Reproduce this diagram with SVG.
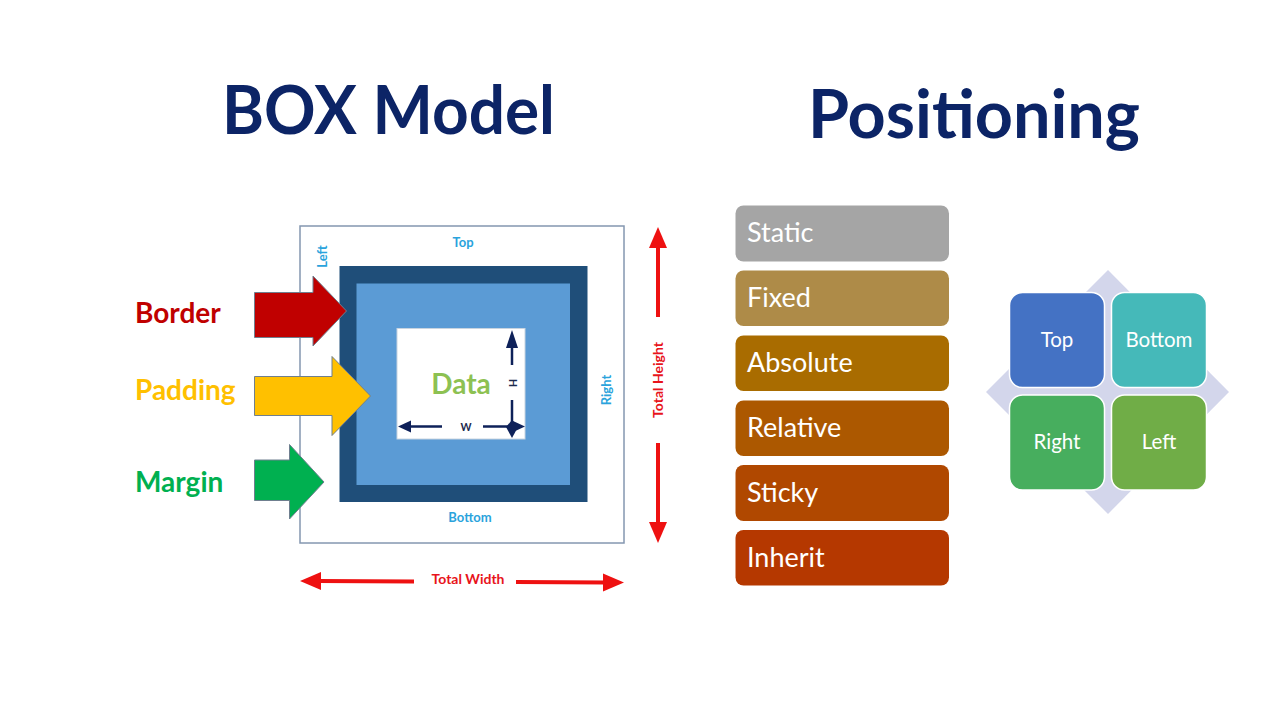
<svg xmlns="http://www.w3.org/2000/svg" width="1280" height="720" viewBox="0 0 1280 720">
<defs>
<style>
text{font-family:Lato,"Open Sans","Liberation Sans",sans-serif}
.title{font-weight:bold;font-size:66px;fill:#0C2466}
.lbl{font-weight:bold;font-size:28px}
.side{font-weight:bold;font-size:13px;fill:#2AA3DC}
.tot{font-weight:bold;font-size:14px;fill:#E8141B}
.dim{font-weight:bold;font-size:10.5px;fill:#1B2A4E}
.li{font-size:27px;fill:#fff}
.q{font-size:20.5px;fill:#fff}
.blk{stroke:#6F7F8F;stroke-width:1}
.red{fill:#EE1111}
.redl{stroke:#EE1111;stroke-width:4;fill:none}
.nav{fill:#0E2159}
.navl{stroke:#0E2159;stroke-width:2.5;fill:none}
</style>
</defs>
<rect width="1280" height="720" fill="#fff"/>
<g id="title-box"><text class="title" x="222" y="134" textLength="333" lengthAdjust="spacingAndGlyphs">BOX Model</text></g>
<g id="title-pos"><text class="title" x="808" y="138" textLength="332" lengthAdjust="spacingAndGlyphs">Positioning</text></g>

<g id="margin-box"><rect x="300" y="226" width="324" height="317" fill="#fff" stroke="#8497B0" stroke-width="1.5"/></g>
<g id="border-box"><rect x="339.5" y="266" width="248" height="236" fill="#1F4E79"/></g>
<g id="padding-box"><rect x="356.5" y="283.5" width="213.5" height="201.5" fill="#5B9BD5"/></g>
<g id="content-box"><rect x="397" y="328.5" width="128" height="110.5" fill="#fff" stroke="#C8D4E0" stroke-width="1"/>
<text x="461" y="394" text-anchor="middle" style="font-weight:bold;font-size:28px;fill:#8DC152">Data</text></g>

<g id="side-labels">
<text class="side" x="463" y="247" text-anchor="middle">Top</text>
<text class="side" x="470" y="521.5" text-anchor="middle">Bottom</text>
<text class="side" transform="translate(327,256.5) rotate(-90)" text-anchor="middle">Left</text>
<text class="side" transform="translate(610.5,390) rotate(-90)" text-anchor="middle">Right</text>
</g>

<g id="connectors">
<g id="dim-h">
<line class="navl" x1="512" y1="345" x2="512" y2="365"/>
<line class="navl" x1="512" y1="400" x2="512" y2="428"/>
<polygon class="nav" points="512,330 506,348 518,348"/>
<polygon class="nav" points="512,438 506,427 512,420 518,427"/>
</g>
<g id="dim-w">
<line class="navl" x1="407" y1="426.5" x2="442" y2="426.5"/>
<line class="navl" x1="483" y1="426.5" x2="512" y2="426.5"/>
<polygon class="nav" points="398,426.5 411,420.5 411,432.5"/>
<polygon class="nav" points="525,426.5 512,420.5 512,432.5"/>
</g>
<g id="total-height">
<line class="redl" x1="658" y1="245" x2="658" y2="317"/>
<line class="redl" x1="658" y1="443" x2="658" y2="524"/>
<polygon class="red" points="658,227 649,248 667,248"/>
<polygon class="red" points="658,543 649,522 667,522"/>
</g>
<g id="total-width">
<line class="redl" x1="318" y1="581" x2="414" y2="581.5"/>
<line class="redl" x1="516" y1="582" x2="606" y2="582.5"/>
<polygon class="red" points="300,581 321,572 321,590"/>
<polygon class="red" points="624,582.5 603,573.5 603,591.5"/>
</g>
<g id="arrow-border"><polygon class="blk" fill="#C00000" points="254.5,292.5 313,292.5 313,276 346.5,311 313,346 313,337.5 254.5,337.5"/></g>
<g id="arrow-padding"><polygon class="blk" fill="#FFC000" points="254.5,376.5 332,376.5 332,356.5 370.5,396 332,435.5 332,415.5 254.5,415.5"/></g>
<g id="arrow-margin"><polygon class="blk" fill="#00B050" points="254.5,460 289.5,460 289.5,444.5 324,482 289.5,519 289.5,500.5 254.5,500.5"/></g>
</g>

<g id="dim-labels">
<text class="dim" transform="translate(509,383) rotate(90)" text-anchor="middle">H</text>
<text class="dim" x="466" y="430.5" text-anchor="middle">W</text>
<text class="tot" x="468" y="583.5" text-anchor="middle">Total Width</text>
<text class="tot" transform="translate(663,380) rotate(-90)" text-anchor="middle">Total Height</text>
</g>

<g id="label-border"><text class="lbl" x="135" y="322.5" fill="#C00000">Border</text></g>
<g id="label-padding"><text class="lbl" x="135" y="399.5" fill="#FFC000">Padding</text></g>
<g id="label-margin"><text class="lbl" x="135" y="491.5" fill="#00B050">Margin</text></g>

<g id="pos-static"><rect x="735.5" y="205.5" width="213.5" height="56" rx="8" fill="#A5A5A5"/><text class="li" x="747" y="242">Static</text></g>
<g id="pos-fixed"><rect x="735.5" y="270.5" width="213.5" height="55.5" rx="8" fill="#AE8B48"/><text class="li" x="747" y="307">Fixed</text></g>
<g id="pos-absolute"><rect x="735.5" y="335.5" width="213.5" height="55.5" rx="8" fill="#A96C00"/><text class="li" x="747" y="372">Absolute</text></g>
<g id="pos-relative"><rect x="735.5" y="400.5" width="213.5" height="55.5" rx="8" fill="#AC5800"/><text class="li" x="747" y="437">Relative</text></g>
<g id="pos-sticky"><rect x="735.5" y="465" width="213.5" height="56" rx="8" fill="#B04800"/><text class="li" x="747" y="502">Sticky</text></g>
<g id="pos-inherit"><rect x="735.5" y="530" width="213.5" height="55.5" rx="8" fill="#B53800"/><text class="li" x="747" y="567">Inherit</text></g>

<g id="quad-diamond"><polygon points="1108,270 1229,392 1108,514 986,392" fill="#D3D6EB"/></g>
<g id="quad-top"><rect x="1009.5" y="292.5" width="95" height="95" rx="13" fill="#4472C4" stroke="#fff" stroke-width="1.5"/><text class="q" x="1057" y="347" text-anchor="middle">Top</text></g>
<g id="quad-bottom"><rect x="1111.5" y="292.5" width="95" height="95" rx="13" fill="#45B9B9" stroke="#fff" stroke-width="1.5"/><text class="q" x="1159" y="347" text-anchor="middle">Bottom</text></g>
<g id="quad-right"><rect x="1009.5" y="395" width="95" height="95" rx="13" fill="#47AE5E" stroke="#fff" stroke-width="1.5"/><text class="q" x="1057" y="449" text-anchor="middle">Right</text></g>
<g id="quad-left"><rect x="1111.5" y="395" width="95" height="95" rx="13" fill="#70AD47" stroke="#fff" stroke-width="1.5"/><text class="q" x="1159" y="449" text-anchor="middle">Left</text></g>
</svg>
